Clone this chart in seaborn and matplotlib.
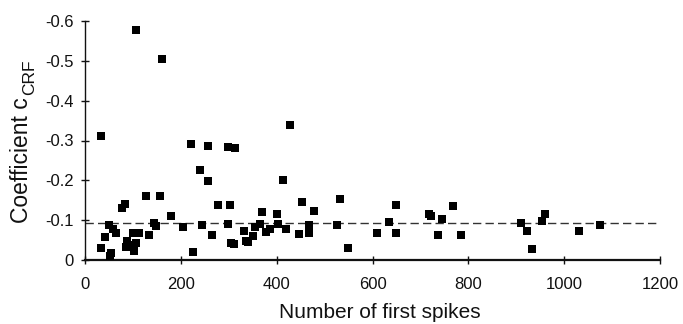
import matplotlib
matplotlib.use("Agg")
import matplotlib.pyplot as plt
import seaborn as sns
import pandas as pd

# ---- data ----
n_first_spikes = [33, 34, 42, 50, 52, 54, 58, 64, 77, 84, 86, 87, 96, 100, 102, 107, 107, 112,
                  127, 134, 143, 148, 157, 161, 179, 205, 221, 226, 240, 244, 257, 257, 264, 278,
                  299, 299, 303, 304, 310, 314, 331, 336, 340, 350, 354, 365, 370, 377, 386, 400,
                  402, 413, 420, 427, 447, 453, 467, 468, 477, 526, 533, 548, 609, 634, 649, 649,
                  717, 722, 736, 745, 767, 784, 910, 922, 933, 953, 961, 1030, 1075]
coef_crf = [-0.031, -0.311, -0.057, -0.089, -0.010, -0.018, -0.079, -0.069, -0.131, -0.140,
            -0.032, -0.048, -0.038, -0.067, -0.023, -0.042, -0.578, -0.067, -0.161, -0.064,
            -0.094, -0.085, -0.161, -0.505, -0.110, -0.083, -0.292, -0.019, -0.226, -0.088,
            -0.286, -0.198, -0.063, -0.138, -0.284, -0.090, -0.137, -0.043, -0.039, -0.282,
            -0.073, -0.047, -0.046, -0.061, -0.084, -0.090, -0.120, -0.071, -0.079, -0.116,
            -0.090, -0.200, -0.077, -0.338, -0.066, -0.146, -0.068, -0.088, -0.122, -0.087,
            -0.154, -0.029, -0.069, -0.095, -0.138, -0.068, -0.115, -0.111, -0.064, -0.104,
            -0.135, -0.064, -0.094, -0.073, -0.027, -0.098, -0.115, -0.074, -0.088]
mean_level = -0.092
xticks = [0, 200, 400, 600, 800, 1000, 1200]
yticks = [0, -0.1, -0.2, -0.3, -0.4, -0.5, -0.6]
ytick_labels = ["0", "-0.1", "-0.2", "-0.3", "-0.4", "-0.5", "-0.6"]

df = pd.DataFrame({"n": n_first_spikes, "c": coef_crf})

sns.set_style("ticks")
plt.rcParams["font.family"] = ["Liberation Sans", "DejaVu Sans"]
plt.rcParams["axes.unicode_minus"] = False

W, H = 683, 324
TXT = "#111111"
fig = plt.figure(figsize=(W / 100, H / 100), dpi=100)
ax = fig.add_axes([85 / W, 1 - 260 / H, 575 / W, 239 / H])

sns.scatterplot(data=df, x="n", y="c", marker="s", color="black", s=36,
                linewidth=0, ax=ax, zorder=3)

ax.plot([0, 1200], [mean_level, mean_level], color="#333333", lw=1.0,
        dashes=(6, 3), zorder=2)

ax.set_xlim(0, 1200)
ax.set_ylim(0, -0.6)
ax.set_xticks(xticks)
ax.set_xticklabels([str(t) for t in xticks])
ax.set_yticks(yticks)
ax.set_yticklabels(ytick_labels)
ax.tick_params(axis="both", direction="inout", length=6, width=1.0,
               labelsize=12, colors=TXT)
ax.tick_params(axis="x", pad=9)
ax.tick_params(axis="y", pad=5)

sns.despine(ax=ax)
ax.spines["bottom"].set_linewidth(1.6)
ax.spines["left"].set_linewidth(1.0)
ax.spines["bottom"].set_color(TXT)
ax.spines["left"].set_color(TXT)

ax.set_xlabel("")
ax.set_ylabel("")

# x label
fig.text(380 / W, 6 / H, "Number of first spikes", ha="center", va="baseline",
         fontsize=15, color=TXT)

# y label: "Coefficient c" followed by a smaller, lowered "CRF"
t1 = fig.text(28 / W, 101 / H, "Coefficient c", rotation=90, rotation_mode="anchor",
              ha="left", va="baseline", fontsize=16.5, color=TXT)
fig.canvas.draw()
bb = t1.get_window_extent()
fig.text(34 / W, (bb.y1 + 2) / H, "CRF", rotation=90, rotation_mode="anchor",
         ha="left", va="baseline", fontsize=12.5, color=TXT)

fig.savefig("out.png", dpi=100)
